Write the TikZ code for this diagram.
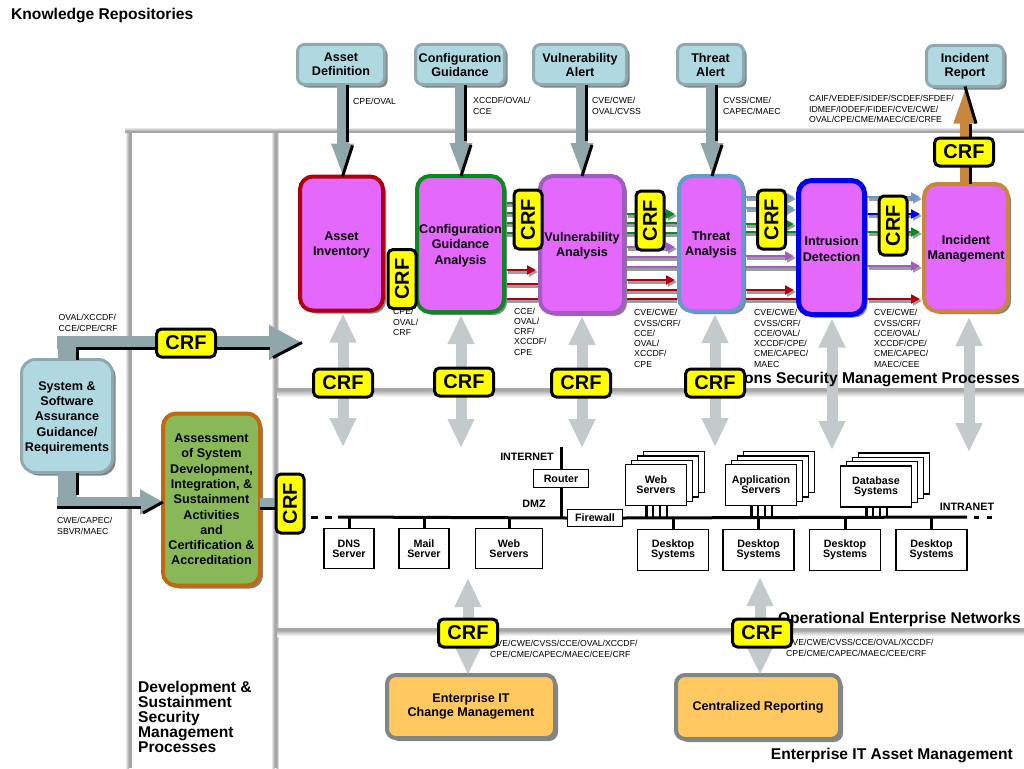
\documentclass[tikz,border=0pt]{standalone}
\usepackage{fontspec}
\setmainfont{Liberation Sans}
\usetikzlibrary{arrows.meta, calc, shadows}
\definecolor{repofill}{HTML}{B0D8E0}
\definecolor{repoborder}{HTML}{8FA9AE}
\definecolor{shaftgray}{HTML}{8FA6AA}
\definecolor{linkgray}{HTML}{C2CACC}
\definecolor{shadowgray}{HTML}{808585}
\definecolor{procfill}{HTML}{E468FB}
\definecolor{crfyellow}{HTML}{FFFF00}
\definecolor{flowred}{HTML}{B00010}
\definecolor{flowgreen}{HTML}{0A8A1E}
\definecolor{flowpurple}{HTML}{A05CBE}
\definecolor{flowsteel}{HTML}{6699CC}
\definecolor{flowblue}{HTML}{0000EE}
\definecolor{reportorange}{HTML}{C8873A}
\definecolor{assessgreen}{HTML}{88B858}
\definecolor{assessborder}{HTML}{C06A10}
\definecolor{itfill}{HTML}{FFC860}
\newcommand{\lift}{\rule{0pt}{12.2pt}}
\tikzset{
  boxshadow/.style={drop shadow={shadow xshift=3pt,shadow yshift=-3pt,fill=shadowgray,opacity=1}},
  repobox/.style={boxshadow,draw=repoborder,fill=repofill,line width=3pt,rounded corners=7pt,
    align=center,inner sep=0pt,outer sep=0pt,font=\fontsize{12.6}{14}\selectfont\bfseries},
  procbox/.style={boxshadow,draw=#1,fill=procfill,line width=4pt,rounded corners=13pt,
    align=center,inner sep=0pt,outer sep=0pt,font=\fontsize{12.6}{15.3}\selectfont\bfseries},
  crf/.style={draw=black,fill=crfyellow,line width=3pt,rounded corners=5pt,minimum width=59pt,
    minimum height=28pt,inner sep=0pt,font=\fontsize{20}{22}\selectfont\bfseries},
  crfv/.style={crf,rotate=90},
  netbox/.style={draw=black,fill=white,line width=1.4pt,inner sep=0pt,align=center,
    font=\fontsize{10.7}{10}\selectfont\bfseries},
  netline/.style={draw=black,line width=3pt},
  nettext/.style={inner sep=0pt,font=\fontsize{10.7}{12}\selectfont\bfseries},
  flowlabel/.style={anchor=west,align=left,inner sep=0pt,font=\fontsize{8.7}{10.25}\selectfont},
  paneltext/.style={inner sep=0pt,align=left,font=\fontsize{15.6}{15}\selectfont\bfseries},
  repoarrow/.style={draw=shaftgray,line width=12pt,-{Triangle[length=33pt,width=20pt,fill=shaftgray]}},
  repoedge/.style={draw=black,line width=3pt},
  linkarrow/.style={draw=linkgray,line width=11pt,
    {Triangle[length=29pt,width=25pt,fill=linkgray]}-{Triangle[length=29pt,width=25pt,fill=linkgray]}},
  flowline/.style={draw=#1,line width=2.6pt},
  flowshade/.style={draw=shadowgray!80,line width=4.5pt},
  flowtip/.style={-{Triangle[length=9pt,width=9pt]},shorten >=2pt}
}
\begin{document}
\begin{tikzpicture}[x=1pt,y=-1pt]
\useasboundingbox (0,0) rectangle (1024,768);
\fill[white] (0,0) rectangle (1024,768);

% panel rules
\shade[top color=white,bottom color=gray!70] (125,127) rectangle (1024,131);
\shade[left color=white,right color=gray!70] (125,131) rectangle (129,768);
\shade[left color=white,right color=gray!70] (271,131) rectangle (274.5,768);
\shade[left color=gray!70,right color=white] (276.5,133) rectangle (279,768);
\shade[top color=gray!70,bottom color=white] (276,390) rectangle (1024,397);
\shade[top color=gray!70,bottom color=white] (276,630) rectangle (1024,636);
\fill[gray!70] (125,131) rectangle (1024,133);
\fill[gray!70] (129,131) rectangle (131.5,768);
\fill[gray!70] (274.5,131) rectangle (276.5,768);
\fill[gray!70] (276,388) rectangle (1024,390);
\fill[gray!70] (276,628) rectangle (1024,630);

% repositories
\node[repobox,minimum width=87pt,minimum height=40pt] at (341,64.5) (AssetDef) {Asset\\Definition};
\node[repobox,minimum width=89pt,minimum height=40pt] at (460,64.5) (ConfigGuide) {Configuration\\Guidance};
\node[repobox,minimum width=93pt,minimum height=40pt] at (580,64.5) (VulnAlert) {Vulnerability\\Alert};
\node[repobox,minimum width=66pt,minimum height=40pt] at (710.5,64.5) (ThreatAlert) {Threat\\Alert};
\node[repobox,minimum width=77pt,minimum height=41pt] at (965,66) (IncidentReport) {Incident\\Report};

% flows between the processes, under the boxes
\coordinate (ConfigW) at (506,0);
\coordinate (VulnW) at (538,0);
\coordinate (VulnE) at (626,0);
\coordinate (ThreatW) at (677,0);
\coordinate (ThreatE) at (745,0);
\coordinate (IntrW) at (796,0);
\coordinate (IntrE) at (867,0);
\coordinate (IncW) at (922,0);

\foreach \from/\to/\col/\y in {
  ConfigW/VulnW/flowgreen/203, ConfigW/VulnW/flowgreen/213, ConfigW/VulnW/flowgreen/223, ConfigW/VulnW/flowgreen/233,
  ConfigW/VulnW/flowred/284, ConfigW/VulnW/flowred/299,
  VulnE/ThreatW/flowgreen/223, VulnE/ThreatW/flowgreen/233,
  VulnE/ThreatW/flowpurple/257, VulnE/ThreatW/flowpurple/267,
  VulnE/ThreatW/flowred/290, VulnE/ThreatW/flowred/299,
  ThreatE/IntrW/flowgreen/232, ThreatE/IntrW/flowpurple/267, ThreatE/IntrW/flowred/299}
{
  \coordinate (flowY) at (0,\y);
  \draw[flowshade] ([yshift=-2pt]\from |- flowY) -- ([yshift=-2pt]\to |- flowY);
  \draw[flowline=\col] (\from |- flowY) -- (\to |- flowY);
}
\foreach \from/\to/\col/\y in {
  ConfigW/VulnW/flowred/270,
  VulnE/ThreatW/flowgreen/214, VulnE/ThreatW/flowpurple/247, VulnE/ThreatW/flowred/280,
  ThreatE/IntrW/flowsteel/197, ThreatE/IntrW/flowsteel/208, ThreatE/IntrW/flowgreen/224,
  ThreatE/IntrW/flowpurple/256, ThreatE/IntrW/flowred/290,
  IntrE/IncW/flowsteel/197, IntrE/IncW/flowblue/214, IntrE/IncW/flowgreen/232,
  IntrE/IncW/flowpurple/266, IntrE/IncW/flowred/299}
{
  \coordinate (flowY) at (0,\y);
  \draw[flowshade,flowtip] ([xshift=2pt,yshift=-2pt]\from |- flowY) -- ([xshift=2pt,yshift=-2pt]\to |- flowY);
  \draw[flowline=\col,flowtip] (\from |- flowY) -- (\to |- flowY);
}

% processes
\node[procbox=flowred,minimum width=83pt,minimum height=134pt] at (341.5,243.5) (AssetInv) {\lift Asset\\Inventory};
\node[procbox=flowgreen,minimum width=87pt,minimum height=136pt] at (460.5,244) (ConfigAnalysis) {\lift Configuration\\Guidance\\Analysis};
\node[procbox=flowpurple,minimum width=84pt,minimum height=137pt] at (582,244.5) (VulnAnalysis) {\lift Vulnerability\\Analysis};
\node[procbox=flowsteel,minimum width=64pt,minimum height=135pt] at (711,243.5) (ThreatAnalysis) {\lift Threat\\Analysis};
\node[procbox=flowblue,line width=5pt,minimum width=66pt,minimum height=134pt] at (831.5,247.5) (IntrDetect) {\lift Intrusion\\Detection};
\node[procbox=reportorange,minimum width=84pt,minimum height=127pt] at (966,247.5) (IncidentMgmt) {\lift Incident\\Management};

\node[repobox,rounded corners=14pt,minimum width=91pt,minimum height=113pt,font=\fontsize{12.6}{15.3}\selectfont\bfseries] at (67,416) (SystemReq) {\lift System \&\\Software\\Assurance\\Guidance/\\Requirements};
\node[procbox=assessborder,fill=assessgreen,minimum width=97pt,minimum height=172pt] at (211.5,499.5) (AssessBox) {Assessment\\of System\\Development,\\Integration, \&\\Sustainment\\Activities\\and\\Certification \&\\Accreditation};
\node[repobox,draw=shadowgray,fill=itfill,line width=4pt,rounded corners=9pt,minimum width=168pt,minimum height=63pt] at (471,706.5) (ChangeMgmt) {Enterprise IT\\Change Management};
\node[repobox,draw=shadowgray,fill=itfill,line width=4pt,rounded corners=9pt,minimum width=164pt,minimum height=64pt] at (758,707) (CentralReport) {Centralized Reporting};

% repository arrows
\foreach \from/\to/\x in {AssetDef/AssetInv/342.5, ConfigGuide/ConfigAnalysis/461, VulnAlert/VulnAnalysis/582, ThreatAlert/ThreatAnalysis/712}
{
  \coordinate (repoX) at (\x,0);
  \draw[repoarrow] (repoX |- \from.south) -- (repoX |- \to.north);
  \draw[repoedge] ([xshift=4.5pt]repoX |- \from.south) -- ([shift={(4.5,-35)}]repoX |- \to.north);
  \draw[repoedge] ([shift={(10,-31)}]repoX |- \to.north) -- (repoX |- \to.north);
}
\coordinate (reportX) at (965,0);
\draw[draw=reportorange,line width=10pt,-{Triangle[length=37pt,width=20pt,fill=reportorange]}] (reportX |- IncidentMgmt.north) -- (reportX |- IncidentReport.south);
\draw[repoedge] ([xshift=5pt]reportX |- IncidentMgmt.north) -- ([shift={(5,37)}]reportX |- IncidentReport.south);
\draw[repoedge] ([shift={(11,37)}]reportX |- IncidentReport.south) -- (reportX |- IncidentReport.south);

% guidance elbows
\coordinate (opsEntry) at (302,342.5);
\coordinate (elbowTop) at (57,342.5);
\draw[draw=shaftgray,line width=19pt] (SystemReq.north) -- ++(0,-22);
\draw[draw=shaftgray,line width=13pt,-{Triangle[length=33pt,width=33pt,fill=shaftgray]}] (elbowTop) -- (opsEntry);
\draw[repoedge] ([xshift=10pt]SystemReq.north) |- ([shift={(-32,6)}]opsEntry);
\draw[repoedge] ([shift={(-29,15)}]opsEntry) -- (opsEntry);

\coordinate (elbowLow) at (57,502);
\draw[draw=shaftgray,line width=19pt] (SystemReq.south) -- ++(0,33);
\draw[draw=shaftgray,line width=10pt,-{Triangle[length=23pt,width=24pt,fill=shaftgray]}] (elbowLow) -- (AssessBox.west |- elbowLow);
\draw[repoedge] ([xshift=10pt]SystemReq.south) -- ++(0,22);
\draw[repoedge] ([yshift=-5pt]elbowLow) -- ([shift={(-22,5)}]AssessBox.west |- elbowLow);
\draw[repoedge] ([shift={(-20,11)}]AssessBox.west |- elbowLow) -- (AssessBox.west |- elbowLow);

% network
\coordinate (busL) at (338,517);
\coordinate (busR) at (967,517);
\coordinate (dashL) at (311,517);
\coordinate (dashR) at (994,517);
\coordinate (netTop) at (561,447);
\draw[netline,dash pattern=on 7pt off 7pt] (dashL) -- (busL);
\draw[netline,dash pattern=on 5pt off 8pt] (busR) ++(7,0) -- (dashR);
\node[netbox,minimum width=55pt,minimum height=17pt] at (595,518) (FirewallBox) {Firewall};
\node[netbox,minimum width=55pt,minimum height=18pt] at (561,478.5) (RouterBox) {Router};
\draw[netline] (busL) -- (FirewallBox.west);
\draw[netline] (FirewallBox.east) -- (busR);
\draw[netline] (netTop) -- (RouterBox.north);
\draw[netline] (RouterBox.south) -- (RouterBox.south |- busL);
\node[nettext] at (527,457) (InternetText) {INTERNET};
\node[nettext] at (534,504) (DmzText) {DMZ};
\node[nettext] at (967,507) (IntranetText) {INTRANET};
\foreach \nm/\x/\w/\txt in {DnsBox/349/50/DNS\\Server, MailBox/424/50/Mail\\Server, WebBox/509/67/Web\\Servers}
{
  \node[netbox,minimum width=\w pt,minimum height=40pt] at (\x,548.5) (\nm) {\txt};
  \draw[netline] (\nm.north) -- (\nm.north |- busL);
}
\foreach \nm/\x/\y/\w/\txt in {webStack/656/485/61/Web\\Servers, appStack/761/485/71/Application\\Servers, dbStack/876/486.5/71/Database\\Systems}
{
  \foreach \i in {3,2,1}
    \node[netbox,minimum width=\w pt,minimum height=41pt] at (\x+6*\i,\y-4.3*\i) (\nm\i) {};
  \node[netbox,minimum width=\w pt,minimum height=41pt] at (\x,\y) (\nm) {\txt};
  \foreach \dx in {-9.5,-3,4,11}
    \draw[netline,line width=2.4pt] ([xshift=\dx pt]\nm.south) -- ([xshift=\dx pt]\nm.south |- busL);
}
\foreach \nm/\x in {deskA/673, deskB/758.5, deskC/845, deskD/931.5}
{
  \node[netbox,minimum width=71pt,minimum height=41pt] at (\x,550) (\nm) {Desktop\\Systems};
  \draw[netline] (\nm.north) -- (\nm.north |- busL);
}

% links between layers
\foreach \proc/\x/\yend/\gap in {AssetInv/343/447/3, ConfigAnalysis/461/448/3, VulnAnalysis/582/448/3, ThreatAnalysis/715/447/3, IntrDetect/832/450/4, IncidentMgmt/969/452/6}
{
  \coordinate (linkEnd) at (\x,\yend);
  \draw[linkarrow,shorten <=\gap pt] (linkEnd |- \proc.south) -- (linkEnd);
}
\foreach \proc/\x/\yend in {ChangeMgmt/468/578, CentralReport/760/577}
{
  \coordinate (linkEnd) at (\x,\yend);
  \draw[linkarrow] (linkEnd) -- (linkEnd |- \proc.north);
}
\draw[draw=shaftgray,line width=12pt] (AssessBox.east |- 0,504) -- (290,504);
\draw[repoedge] (AssessBox.east |- 0,508.5) -- (290,508.5);

% panel titles
\node[paneltext,anchor=west] at (11,16) (RepoTitle) {Knowledge Repositories};
\node[paneltext,anchor=north west] at (138,680.5) (DevTitle) {Development \&\\Sustainment\\Security\\Management\\Processes};
\node[paneltext,anchor=east] at (1020,379.5) (OpsTitle) {Operations Security Management Processes};
\node[paneltext,anchor=east] at (1021,619.5) (NetTitle) {Operational Enterprise Networks};
\node[paneltext,anchor=east] at (1013,755) (AssetTitle) {Enterprise IT Asset Management};

% standards on the flows
\node[flowlabel] at (353,101) (lblAsset) {CPE/OVAL};
\node[flowlabel] at (473,106) (lblConfig) {XCCDF/OVAL/\\CCE};
\node[flowlabel] at (592,106) (lblVuln) {CVE/CWE/\\OVAL/CVSS};
\node[flowlabel] at (723,106) (lblThreat) {CVSS/CME/\\CAPEC/MAEC};
\node[flowlabel] at (809,109) (lblReport) {CAIF/VEDEF/SIDEF/SCDEF/SFDEF/\\IDMEF/IODEF/FIDEF/CVE/CWE/\\OVAL/CPE/CME/MAEC/CE/CRFE};
\node[flowlabel] at (58.5,323) (lblTop) {OVAL/XCCDF/\\CCE/CPE/CRF};
\node[flowlabel] at (57,526) (lblLow) {CWE/CAPEC/\\SBVR/MAEC};
\node[flowlabel] at (393,322) (lblInv) {CPE/\\OVAL/\\CRF};
\node[flowlabel] at (514,331.5) (lblCfg) {CCE/\\OVAL/\\CRF/\\XCCDF/\\CPE};
\node[flowlabel] at (634,338.5) (lblVul) {CVE/CWE/\\CVSS/CRF/\\CCE/\\OVAL/\\XCCDF/\\CPE};
\node[flowlabel] at (754,338.5) (lblThr) {CVE/CWE/\\CVSS/CRF/\\CCE/OVAL/\\XCCDF/CPE/\\CME/CAPEC/\\MAEC};
\node[flowlabel] at (874,338.5) (lblInt) {CVE/CWE/\\CVSS/CRF/\\CCE/OVAL/\\XCCDF/CPE/\\CME/CAPEC/\\MAEC/CEE};
\node[flowlabel] at (490,649) (lblChange) {CVE/CWE/CVSS/CCE/OVAL/XCCDF/\\CPE/CME/CAPEC/MAEC/CEE/CRF};
\node[flowlabel] at (786,648) (lblCentral) {CVE/CWE/CVSS/CCE/OVAL/XCCDF/\\CPE/CME/CAPEC/MAEC/CEE/CRF};

% CRF tags
\node[crf] at (964,152) (crfReport) {CRF};
\node[crf] at (186,343) (crfTop) {CRF};
\foreach \nm/\x/\y in {crfA/343/383, crfB/464/382, crfC/581/383, crfD/715/383, crfE/468/633, crfF/762/633}
  \node[crf] at (\x,\y) (\nm) {CRF};
\foreach \nm/\x/\y in {crfG/402/279, crfH/528/219.5, crfI/650/220.5, crfJ/771.5/219.5, crfK/893/225.5, crfL/290/503.5}
  \node[crfv] at (\x,\y) (\nm) {CRF};
\end{tikzpicture}
\end{document}
